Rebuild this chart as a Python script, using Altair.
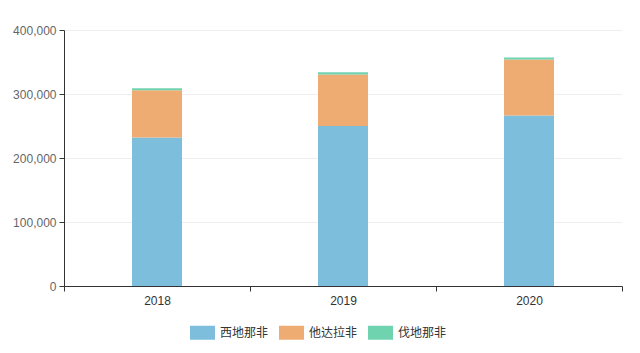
import altair as alt
import pandas as pd

years = ["2018", "2019", "2020"]
series = ["西地那非", "他达拉非", "伐地那非"]
sildenafil = [232000, 250000, 266500]
tadalafil = [74000, 80500, 87500]
vardenafil = [3000, 3500, 3000]
colors = ["#7cbedc", "#eeac73", "#6fd3b0"]

rows = []
for i, y in enumerate(years):
    for k, (name, vals) in enumerate(zip(series, [sildenafil, tadalafil, vardenafil])):
        rows.append({"year": y, "drug": name, "value": vals[i], "ord": k})
df = pd.DataFrame(rows)

bars = alt.Chart(df).mark_bar(width=50).encode(
    x=alt.X("year:N", title=None,
            scale=alt.Scale(paddingInner=0, paddingOuter=0),
            axis=alt.Axis(labelAngle=0, tickBand="extent", domainColor="#333333",
                          tickColor="#333333", labelColor="#333333", labelFontSize=12,
                          labelFont="Liberation Sans", tickSize=5, labelPadding=4, grid=False)),
    y=alt.Y("value:Q", title=None, stack="zero",
            scale=alt.Scale(domain=[0, 400000], nice=False),
            axis=alt.Axis(values=[0, 100000, 200000, 300000, 400000], format=",d",
                          domainColor="#333333", tickColor="#333333", labelColor="#666666",
                          labelFontSize=12, labelFont="Liberation Sans", tickSize=5,
                          labelPadding=3, gridColor="#eeeeee")),
    color=alt.Color("drug:N", sort=series,
                    scale=alt.Scale(domain=series, range=colors),
                    legend=alt.Legend(title=None, orient="none", direction="horizontal",
                                      legendX=126, legendY=290,
                                      symbolType="M-1,-0.56 L1,-0.56 L1,0.56 L-1,0.56 Z",
                                      symbolSize=625, symbolStrokeWidth=0, symbolOpacity=1,
                                      labelFont="Noto Sans CJK SC", labelFontSize=12,
                                      labelColor="#333333", columnPadding=10,
                                      labelOffset=5)),
    order=alt.Order("ord:Q", sort="ascending"),
)

chart = bars.properties(
    width=558, height=256,
    background="white",
    autosize=alt.AutoSizeParams(type="none"),
    padding={"left": 64, "top": 30, "right": 18, "bottom": 67},
).configure_view(stroke=None, strokeWidth=0)

chart.save("out.html", embed_options={"renderer": "svg", "actions": False})
